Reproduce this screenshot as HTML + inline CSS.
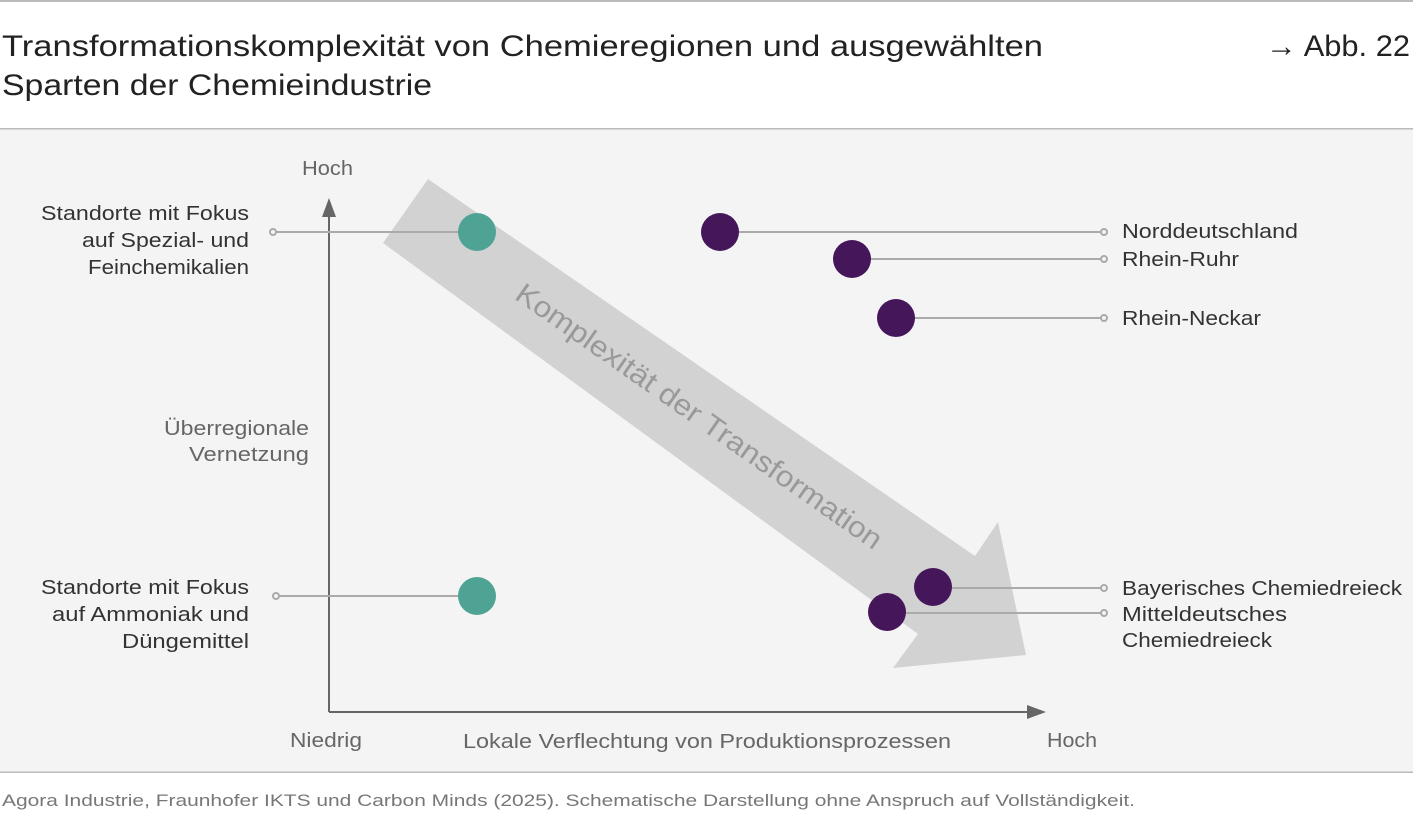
<!DOCTYPE html>
<html><head><meta charset="utf-8"><style>
body{margin:0;width:1413px;height:825px;background:#fff;overflow:hidden;font-family:"Liberation Sans",sans-serif;}
</style></head><body>
<svg width="1413" height="825" xmlns="http://www.w3.org/2000/svg" font-family="Liberation Sans, sans-serif">
<rect x="0" y="0" width="1413" height="2" fill="#bbb"/>
<text x="2" y="56" font-size="30" fill="#222" textLength="1041" lengthAdjust="spacingAndGlyphs">Transformationskomplexität von Chemieregionen und ausgewählten</text>
<text x="2" y="95" font-size="30" fill="#222" textLength="430" lengthAdjust="spacingAndGlyphs">Sparten der Chemieindustrie</text>
<text x="1266" y="56" font-size="30" fill="#222" textLength="144" lengthAdjust="spacingAndGlyphs">→ Abb. 22</text>
<rect x="0" y="128" width="1413" height="1.5" fill="#bbb"/>
<rect x="0" y="129.5" width="1413" height="642" fill="#f4f4f4"/>
<rect x="0" y="771.5" width="1413" height="1.5" fill="#bbb"/>
<text x="2" y="806" font-size="17" fill="#777" textLength="1133" lengthAdjust="spacingAndGlyphs">Agora Industrie, Fraunhofer IKTS und Carbon Minds (2025). Schematische Darstellung ohne Anspruch auf Vollständigkeit.</text>
<polygon points="428,179 975,556 998,522 1026,655 893,668 918,634 383,243" fill="#d2d2d2"/>
<text transform="translate(698,418) rotate(35)" font-size="29" fill="#999" text-anchor="middle" dominant-baseline="middle" textLength="440" lengthAdjust="spacingAndGlyphs">Komplexität der Transformation</text>
<line x1="329" y1="214" x2="329" y2="712" stroke="#666" stroke-width="2"/>
<polygon points="329,198 322,217 336,217" fill="#666"/>
<line x1="329" y1="712" x2="1030" y2="712" stroke="#666" stroke-width="2"/>
<polygon points="1046,712 1027,705 1027,719" fill="#666"/>
<g font-size="20" fill="#666">
<text x="302" y="175" textLength="51" lengthAdjust="spacingAndGlyphs">Hoch</text>
<text x="164" y="435" textLength="145" lengthAdjust="spacingAndGlyphs">Überregionale</text>
<text x="189" y="461" textLength="120" lengthAdjust="spacingAndGlyphs">Vernetzung</text>
<text x="290" y="747" textLength="72" lengthAdjust="spacingAndGlyphs">Niedrig</text>
<text x="463" y="748" textLength="488" lengthAdjust="spacingAndGlyphs">Lokale Verflechtung von Produktionsprozessen</text>
<text x="1047" y="747" textLength="50" lengthAdjust="spacingAndGlyphs">Hoch</text>
</g>
<g stroke="#aaa" stroke-width="2" fill="#f4f4f4">
<line x1="276" y1="232" x2="477" y2="232"/><circle cx="273" cy="232" r="3"/>
<line x1="279" y1="596" x2="477" y2="596"/><circle cx="276" cy="596" r="3"/>
<line x1="720" y1="232" x2="1101" y2="232"/><circle cx="1104" cy="232" r="3"/>
<line x1="852" y1="259" x2="1101" y2="259"/><circle cx="1104" cy="259" r="3"/>
<line x1="896" y1="318" x2="1101" y2="318"/><circle cx="1104" cy="318" r="3"/>
<line x1="933" y1="588" x2="1101" y2="588"/><circle cx="1104" cy="588" r="3"/>
<line x1="887" y1="613" x2="1101" y2="613"/><circle cx="1104" cy="613" r="3"/>
</g>
<g fill="#4ea394"><circle cx="477" cy="232" r="19"/><circle cx="477" cy="596" r="19"/></g>
<g fill="#45165a"><circle cx="720" cy="232" r="19"/><circle cx="852" cy="259" r="19"/><circle cx="896" cy="318" r="19"/><circle cx="933" cy="587" r="19"/><circle cx="887" cy="612" r="19"/></g>
<g font-size="20" fill="#333">
<text x="41" y="220" textLength="208" lengthAdjust="spacingAndGlyphs">Standorte mit Fokus</text>
<text x="82" y="247" textLength="167" lengthAdjust="spacingAndGlyphs">auf Spezial- und</text>
<text x="88" y="274" textLength="161" lengthAdjust="spacingAndGlyphs">Feinchemikalien</text>
<text x="41" y="594" textLength="208" lengthAdjust="spacingAndGlyphs">Standorte mit Fokus</text>
<text x="52" y="621" textLength="197" lengthAdjust="spacingAndGlyphs">auf Ammoniak und</text>
<text x="122" y="648" textLength="127" lengthAdjust="spacingAndGlyphs">Düngemittel</text>
<text x="1122" y="238" textLength="176" lengthAdjust="spacingAndGlyphs">Norddeutschland</text>
<text x="1122" y="266" textLength="117" lengthAdjust="spacingAndGlyphs">Rhein-Ruhr</text>
<text x="1122" y="325" textLength="139" lengthAdjust="spacingAndGlyphs">Rhein-Neckar</text>
<text x="1122" y="595" textLength="280" lengthAdjust="spacingAndGlyphs">Bayerisches Chemiedreieck</text>
<text x="1122" y="621" textLength="165" lengthAdjust="spacingAndGlyphs">Mitteldeutsches</text>
<text x="1122" y="647" textLength="150" lengthAdjust="spacingAndGlyphs">Chemiedreieck</text>
</g>
</svg>
</body></html>
